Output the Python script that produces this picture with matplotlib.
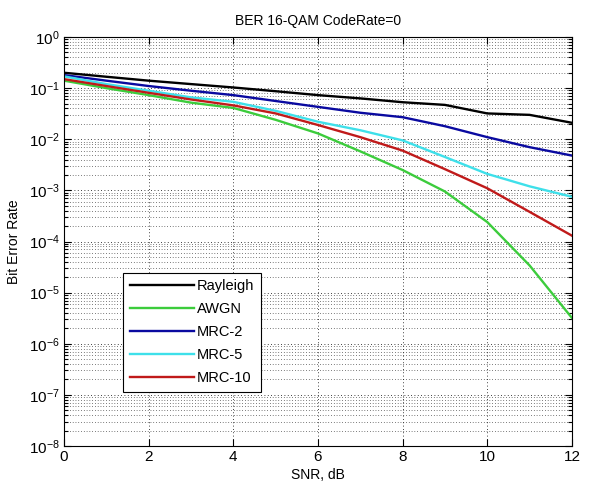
import matplotlib
matplotlib.use("Agg")
import matplotlib.pyplot as plt
import numpy as np
from matplotlib.ticker import LogLocator, NullFormatter, FixedLocator

plt.rcParams["font.family"] = ["Liberation Sans", "DejaVu Sans"]
plt.rcParams["mathtext.default"] = "regular"

# =========================
# DATA
# =========================
snr_db = [0, 1, 2, 3, 4, 5, 6, 7, 8, 9, 10, 11, 12]

ber_rayleigh = [0.20, 0.167, 0.14, 0.12, 0.103, 0.087, 0.073, 0.063, 0.053,
                0.047, 0.032, 0.030, 0.021]
ber_awgn = [0.14, 0.10, 0.073, 0.052, 0.041, 0.024, 0.013, 0.0058, 0.0025,
            0.00095, 0.00024, 3.4e-5, 3.2e-6]
ber_mrc2 = [0.18, 0.14, 0.11, 0.089, 0.073, 0.056, 0.043, 0.033, 0.027,
            0.018, 0.011, 0.007, 0.0048]
ber_mrc5 = [0.17, 0.12, 0.089, 0.066, 0.054, 0.036, 0.022, 0.015, 0.0095,
            0.0045, 0.0021, 0.0012, 0.00075]
ber_mrc10 = [0.15, 0.11, 0.081, 0.060, 0.046, 0.032, 0.019, 0.011, 0.0060,
             0.0026, 0.0011, 0.00038, 0.00013]

series_labels = ["Rayleigh", "AWGN", "MRC-2", "MRC-5", "MRC-10"]
x_ticks = [0, 2, 4, 6, 8, 10, 12]
y_exponents = [0, -1, -2, -3, -4, -5, -6, -7, -8]

# =========================
# PLOT
# =========================
fig = plt.figure(figsize=(5.89, 4.87), dpi=100)
ax = fig.add_axes([0.1087, 0.0842, 0.8623, 0.8398])

colors = ["#000000", "#3ccc3c", "#0a0aa0", "#3ee0ea", "#c01a1a"]
for ys, lab, c in zip([ber_rayleigh, ber_awgn, ber_mrc2, ber_mrc5, ber_mrc10],
                      series_labels, colors):
    ax.semilogy(snr_db, ys, color=c, lw=1.7, label=lab)

ax.set_xlim(0, 12)
ax.set_ylim(1e-8, 1)

ax.xaxis.set_major_locator(FixedLocator(x_ticks))
ax.set_xticklabels([str(t) for t in x_ticks])
ax.yaxis.set_major_locator(FixedLocator([10.0 ** e for e in y_exponents]))
ax.set_yticklabels([f"$10^{{{e}}}$" if e == 0 else f"$10^{{-{-e}}}$"
                    for e in y_exponents])
ax.yaxis.set_minor_locator(LogLocator(base=10, subs=np.arange(2, 10), numticks=20))
ax.yaxis.set_minor_formatter(NullFormatter())

ax.tick_params(which="both", direction="in", top=True, right=True,
               labelsize=11, width=0.8)
ax.tick_params(which="major", length=5, pad=3)
ax.tick_params(which="minor", length=3)

ax.grid(which="major", color="k", ls=(0, (1, 3)), lw=0.6)
ax.grid(which="minor", axis="y", color="k", ls=(0, (1, 3)), lw=0.5)
for sp in ax.spines.values():
    sp.set_linewidth(0.8)

ax.set_title("BER 16-QAM CodeRate=0", fontsize=10, pad=9)
ax.set_xlabel("SNR, dB", fontsize=10, labelpad=3)
ax.set_ylabel("Bit Error Rate", fontsize=10, labelpad=6)

leg = ax.legend(loc="lower left", bbox_to_anchor=(0.116, 0.132),
                fontsize=10.5, fancybox=False, framealpha=1, edgecolor="k",
                handlelength=4.4, handletextpad=0.2, borderpad=0.45,
                labelspacing=0.62, borderaxespad=0)
leg.get_frame().set_linewidth(0.8)

fig.savefig("out.png", dpi=100)
